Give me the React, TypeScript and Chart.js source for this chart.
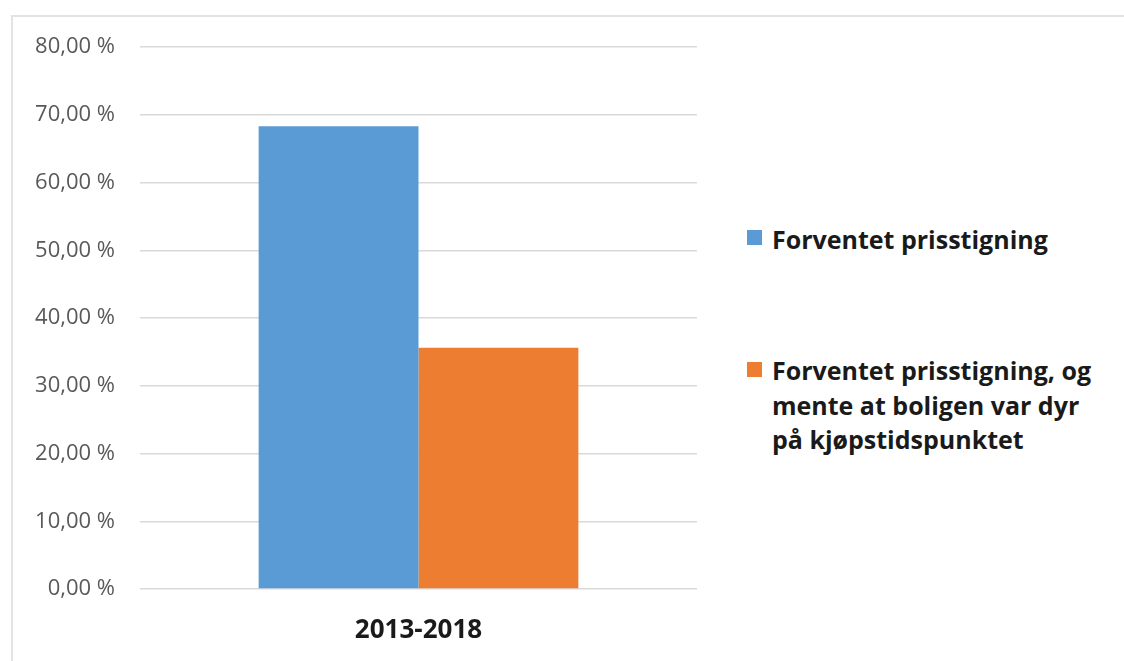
import React, { useEffect, useRef } from "react";
import { Chart, registerables } from "chart.js";

Chart.register(...registerables);

const categories = ["2013-2018"];
const seriesLabels = [
  ["Forventet prisstigning"],
  ["Forventet prisstigning, og", "mente at boligen var dyr", "på kjøpstidspunktet"],
];
const blueValues = [68.3];
const orangeValues = [35.6];
const seriesColors = ["#5b9bd5", "#ed7d31"];
const yMin = 0;
const yMax = 80;
const yStep = 10;

const fmt = (v: number) => v.toFixed(2).replace(".", ",") + " %";

export default function App() {
  const ref = useRef<HTMLCanvasElement | null>(null);

  useEffect(() => {
    if (!ref.current) return;
    const chart = new Chart(ref.current, {
      type: "bar",
      data: {
        labels: categories,
        datasets: [
          {
            label: seriesLabels[0].join(" "),
            data: blueValues,
            backgroundColor: seriesColors[0],
            borderWidth: 0,
          },
          {
            label: seriesLabels[1].join(" "),
            data: orangeValues,
            backgroundColor: seriesColors[1],
            borderWidth: 0,
          },
        ],
      },
      options: {
        animation: false,
        responsive: false,
        maintainAspectRatio: false,
        layout: { padding: { top: 47, right: 23, bottom: 0, left: 0 } },
        plugins: {
          legend: { display: false },
          tooltip: { enabled: false },
        },
        datasets: {
          bar: { categoryPercentage: 0.574, barPercentage: 1 },
        },
        scales: {
          x: {
            grid: { display: false, drawTicks: false },
            border: { display: false },
            ticks: {
              color: "#1a1a1a",
              padding: 26,
              font: { family: "'Open Sans', sans-serif", size: 26, weight: "bold" },
            },
            afterFit: (s: any) => {
              s.height = 72;
            },
          },
          y: {
            min: yMin,
            max: yMax,
            grid: { color: "#d9d9d9", lineWidth: 1.5, drawTicks: false },
            border: { display: false },
            ticks: {
              stepSize: yStep,
              color: "#595959",
              padding: 25,
              font: { family: "'Open Sans', sans-serif", size: 22 },
              callback: (v: any) => fmt(Number(v)),
            },
            afterFit: (s: any) => {
              s.width = 140;
            },
          },
        },
      },
    });
    return () => chart.destroy();
  }, []);

  return (
    <div
      style={{
        position: "fixed",
        left: 0,
        top: 0,
        width: 1124,
        height: 661,
        background: "#ffffff",
        overflow: "hidden",
      }}
    >
      <div
        style={{
          position: "absolute",
          left: 11,
          top: 15,
          width: 1124,
          height: 700,
          borderTop: "2px solid #e3e3e3",
          borderLeft: "2px solid #e3e3e3",
        }}
      />
      <canvas
        ref={ref}
        width={720}
        height={661}
        style={{ position: "absolute", left: 0, top: 0, width: 720, height: 661 }}
      />
      {seriesLabels.map((lines, i) => (
        <div
          key={i}
          style={{
            position: "absolute",
            left: 747,
            top: i === 0 ? 222 : 353,
            display: "flex",
            alignItems: "flex-start",
          }}
        >
          <div
            style={{
              width: 15,
              height: 15,
              background: seriesColors[i],
              marginTop: i === 0 ? 8 : 9,
              marginRight: 10,
            }}
          />
          <div
            style={{
              fontFamily: "'Open Sans', sans-serif",
              fontWeight: "bold",
              fontSize: 25,
              lineHeight: "34.5px",
              color: "#1a1a1a",
              whiteSpace: "nowrap",
            }}
          >
            {lines.map((l, j) => (
              <div key={j}>{l}</div>
            ))}
          </div>
        </div>
      ))}
    </div>
  );
}
